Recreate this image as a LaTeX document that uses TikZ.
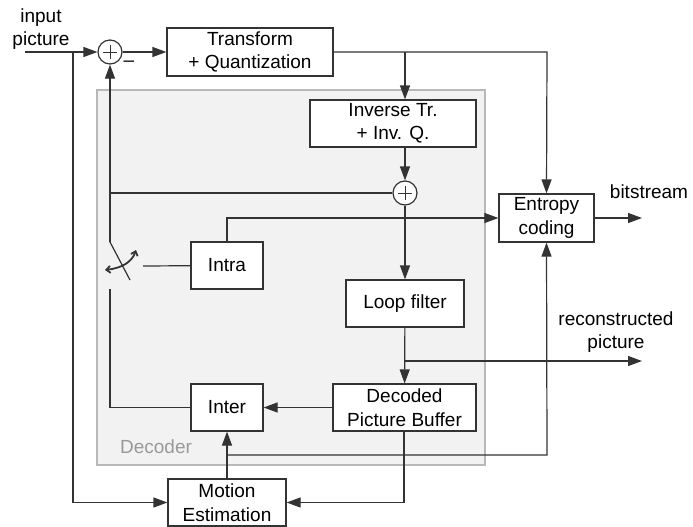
\documentclass[tikz,border=0pt]{standalone}
\usepackage{fontspec}
\setmainfont{Liberation Sans}
\usetikzlibrary{arrows.meta}
\definecolor{linec}{HTML}{333333}
\definecolor{regionfill}{HTML}{F2F2F2}
\definecolor{regionedge}{HTML}{B8B8B8}
\begin{document}
\begin{tikzpicture}[x=1pt,y=-1pt,
  font=\fontsize{19}{23.5}\selectfont,
  block/.style={draw=linec, line width=1.2pt, fill=white, align=center, inner sep=0pt},
  summer/.style={draw=linec, line width=1.2pt, fill=white, circle, minimum size=24pt, inner sep=0pt},
  wire/.style={draw=linec, line width=1.2pt},
  flow/.style={wire, -{Triangle[length=14pt,width=10pt]}},
  lbl/.style={align=center, inner sep=0pt}]
\useasboundingbox (0,0) rectangle (693,527);

% decoder region
\fill[regionfill, draw=regionedge, line width=1.5pt] (97,90) rectangle (485,465);
\node[lbl, text=black!40] (declbl) at (156,447) {Decoder};

% blocks
\node[block, minimum width=166pt, minimum height=48pt] (trans) at (250,52) {Transform\\+ Quantization};
\node[block, minimum width=166pt, minimum height=47pt] (inv) at (393,123.5) {Inverse Tr.\\+ Inv. Q.};
\node[block, minimum width=95pt, minimum height=48pt] (ent) at (546.5,218) {Entropy\\coding};
\node[block, minimum width=72pt, minimum height=47pt] (intra) at (227,265.5) {Intra};
\node[block, minimum width=118pt, minimum height=47pt] (loop) at (405,303.5) {Loop filter};
\node[block, minimum width=143pt, minimum height=47pt] (dpb) at (404.5,407.5) {Decoded\\Picture Buffer};
\node[block, minimum width=72pt, minimum height=47pt] (inter) at (227,407.5) {Inter};
\node[block, minimum width=118pt, minimum height=47pt] (me) at (227,502.5) {Motion\\Estimation};

% summing junctions
\node[summer] (sum1) at (110,52) {};
\node[summer] (sum2) at (405,193) {};
\foreach \s in {sum1,sum2}{
  \draw[linec, line width=0.9pt] ([xshift=-7pt]\s.center) -- ([xshift=7pt]\s.center)
                                 ([yshift=-7pt]\s.center) -- ([yshift=7pt]\s.center);
}

% labels
\node[lbl] (inlbl) at (41,29) {input\\picture};
\node[lbl] (minus) at (129,64) {\textendash};
\node[lbl] (bslbl) at (649,192) {bitstream};
\node[lbl] (reclbl) at (616,332) {reconstructed\\picture};

% helper points
\coordinate (in) at (25,52);
\coordinate (split) at (73,52);
\coordinate (tq) at (405,52);
\coordinate (te) at (547,52);
\coordinate (fb) at (110,193);
\coordinate (swtop) at (110,242);
\coordinate (swblade) at (130,280);
\coordinate (swbot) at (110,289);
\coordinate (swin) at (143,266);
\coordinate (intrup) at (227,218);
\coordinate (recsplit) at (405,361);
\coordinate (recout) at (642,361);
\coordinate (bsout) at (642,218);
\coordinate (mvsplit) at (227,455);
\coordinate (mvcorner) at (547,455);
\coordinate (dpbdown) at (404,503);

% forward path
\draw[flow] (in) -- (sum1);
\draw[flow] (sum1) -- (trans);
\draw[flow] (trans.east) -- (te) -- (ent.north);
\draw[flow] (tq) -- (tq |- inv.north);
\draw[flow] (tq |- inv.south) -- (sum2);
\draw[flow] (sum2) -- (loop);
\draw[flow] (loop) -- (dpb);
\draw[flow] (recsplit) -- (recout);
\draw[flow] (ent) -- (bsout);

% prediction loop
\draw[wire] (sum2) -- (fb);
\draw[flow] (swtop) -- (sum1);
\draw[wire] (swtop) -- (swblade);
\draw[wire] (swbot) |- (inter);
\draw[wire] (intra) -- (swin);
\draw[flow] (intra.north) -- (intrup) -- (ent);
\draw[flow] (dpb) -- (inter);

% motion estimation
\draw[flow] (split) |- (me);
\draw[flow] (dpb.south -| dpbdown) |- (me);
\draw[flow] (me) -- (inter);
\draw[flow] (mvsplit) -- (mvcorner) -- (ent.south);

% switch selector
\draw[linec, line width=1.8pt, {Straight Barb[length=4pt,width=7pt]}-{Straight Barb[length=4pt,width=7pt]}]
  (105,270) .. controls (122,268) and (132,262) .. (136,250);
\end{tikzpicture}
\end{document}
